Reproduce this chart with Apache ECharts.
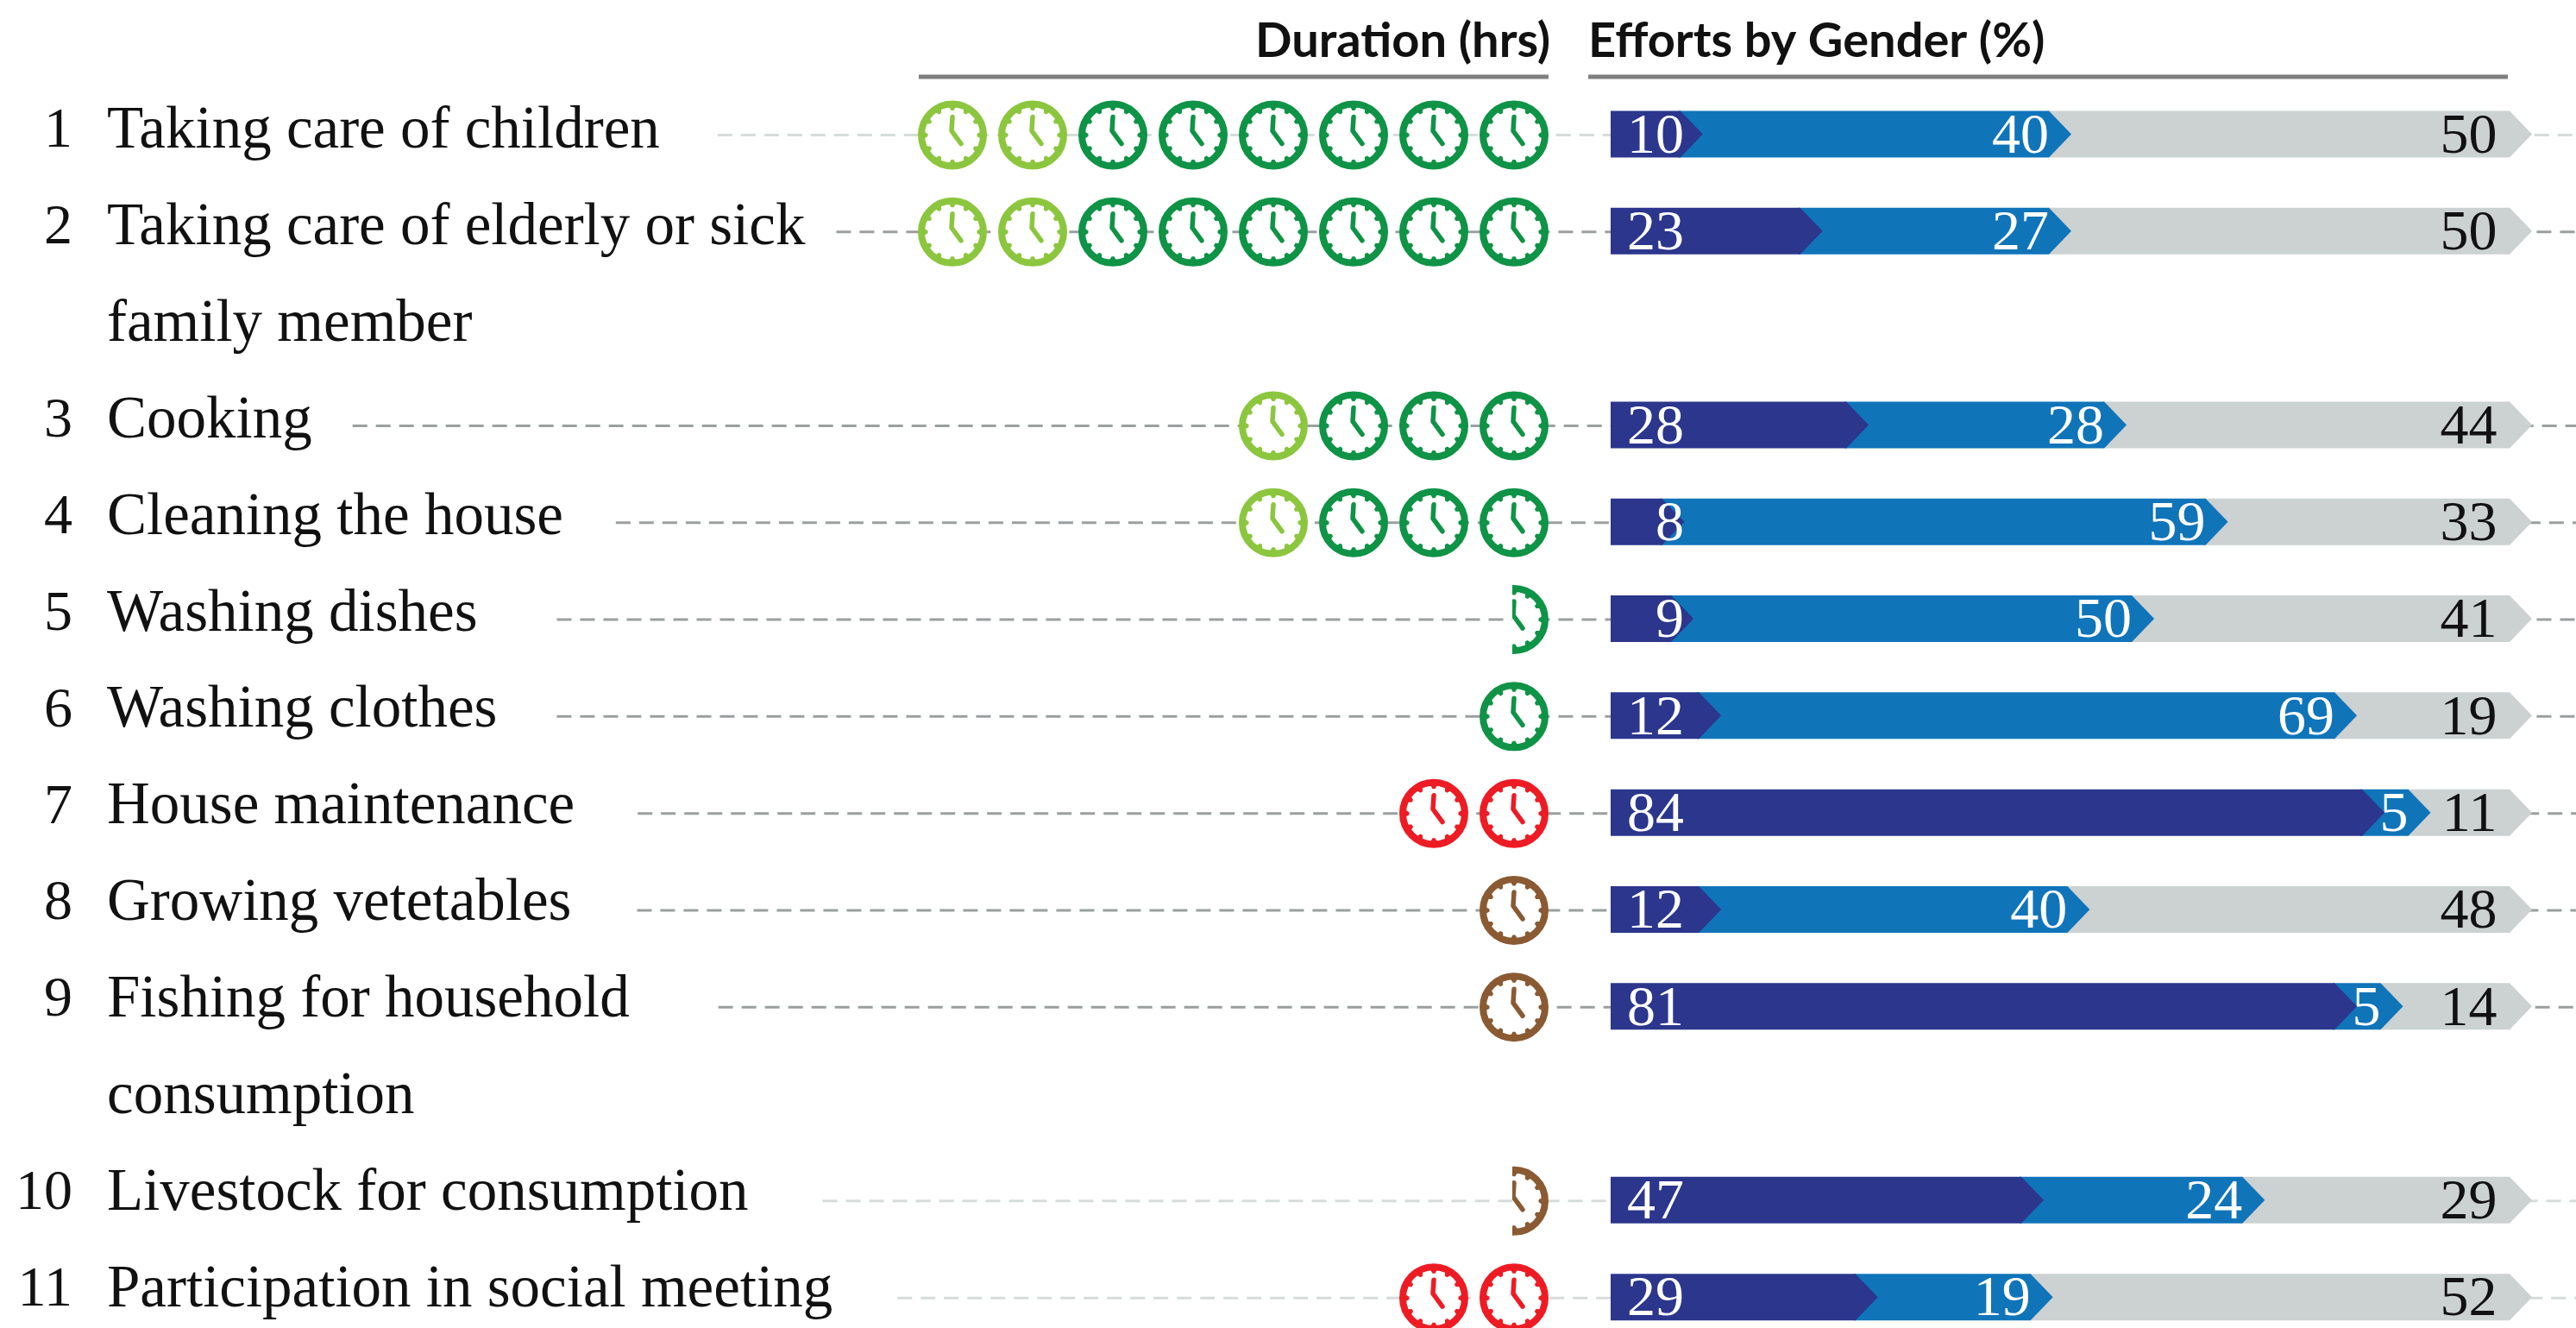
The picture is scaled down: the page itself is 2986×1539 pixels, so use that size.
<!DOCTYPE html>
<html>
<head>
<meta charset="utf-8">
<style>html,body{margin:0;padding:0;background:#fff}#c{width:2986px;height:1539px}</style>
<script src="https://cdn.jsdelivr.net/npm/echarts@6/dist/echarts.min.js"></script>
</head>
<body>
<div id="c"></div>
<script>
// ---- data ----
const activities = [
  ["Taking care of children"],
  ["Taking care of elderly or sick", "family member"],
  ["Cooking"],
  ["Cleaning the house"],
  ["Washing dishes"],
  ["Washing clothes"],
  ["House maintenance"],
  ["Growing vetetables"],
  ["Fishing for household", "consumption"],
  ["Livestock for consumption"],
  ["Participation in social meeting"]
];
const durationHours = [8, 8, 4, 4, 0.5, 1, 2, 1, 1, 0.5, 2];
const lightHours    = [2, 2, 1, 1, 0, 0, 0, 0, 0, 0, 0];
const clockGroup    = ["green", "green", "green", "green", "green", "green", "red", "brown", "brown", "brown", "red"];
const shareDark = [10, 23, 28, 8, 9, 12, 84, 12, 81, 47, 29];
const shareMid  = [40, 27, 28, 59, 50, 69, 5, 40, 5, 24, 19];
const shareGrey = [50, 50, 44, 33, 41, 19, 11, 48, 14, 29, 52];

// ---- styles ----
const leaderTone = ["light", "dark", "dark", "dark", "dark", "dark", "dark", "dark", "dark", "light", "light"];
const leaderGap = [67, 36, 47, 61, 92, 69, 73, 76, 103, 86, 75];
const SERIF = '"Liberation Serif"';
const SANS = 'Lato';
const FS = 66, FS_LABEL = 69;
const COL = {
  dark: '#2b368c', mid: '#1074b9', grey: '#ccd1d1',
  lightGreen: '#8cc63f', green: '#0f9346', red: '#ed1c24', brown: '#8a5a32',
  leaderDark: '#9a9fa0', leaderLight: '#d6dcd9', rule: '#7f7f7f', ink: '#111'
};
const clockColor = {green: COL.green, red: COL.red, brown: COL.brown};

// slots: every text line takes one slot on the shared category axis
const slotLabels = [], slotNumbers = [], rowSlot = [];
activities.forEach((lines, i) => {
  rowSlot.push(slotLabels.length);
  lines.forEach((t, j) => { slotLabels.push(t); slotNumbers.push(j === 0 ? String(i + 1) : ''); });
});

const mctx = document.createElement('canvas').getContext('2d');
mctx.font = FS_LABEL + 'px ' + SERIF;
const leaderData = activities.map((lines, i) => [mctx.measureText(lines[0]).width + leaderGap[i], rowSlot[i]]);

const clockData = [];
durationHours.forEach((h, i) => {
  const n = Math.ceil(h);
  for (let k = 0; k < n; k++) {
    const frac = Math.min(1, h - k);
    const isLight = k >= n - lightHours[i];
    clockData.push({value: [k + 0.5, rowSlot[i]], frac, color: isLight ? COL.lightGreen : clockColor[clockGroup[i]]});
  }
});

const GRID_TOP = 99.4, SLOT = 112.3, GRID_H = SLOT * slotLabels.length;
const TEXT_TOP = 97, TEXT_SLOT = 111.9, TEXT_H = TEXT_SLOT * slotLabels.length;

function renderLeader(params, api) {
  const a = api.coord([api.value(0), api.value(1)]);
  const b = api.coord([2862, api.value(1)]);
  const tone = leaderTone[params.dataIndex];
  return {type: 'line', shape: {x1: a[0], y1: a[1] + 1, x2: b[0], y2: b[1] + 1},
    style: {stroke: tone === 'dark' ? COL.leaderDark : COL.leaderLight, lineWidth: 3, lineDash: [17, 10]}};
}

function renderClock(params, api) {
  const item = clockData[params.dataIndex];
  const c = api.coord([api.value(0), api.value(1)]);
  const cx = c[0], cy = c[1] + 1;
  const R = 40, lw = 8, col = item.color;
  const children = [{type: 'circle', shape: {cx, cy, r: R - lw / 2},
    style: {fill: '#fff', stroke: col, lineWidth: lw}}];
  for (let t = 0; t < 12; t++) {
    const an = t * Math.PI / 6, ux = Math.cos(an), uy = Math.sin(an), vx = -uy, vy = ux;
    const r0 = R - lw + 1, r1 = R - lw - 3.5;
    children.push({type: 'polygon', shape: {points: [
      [cx + ux * r0 + vx * 4, cy + uy * r0 + vy * 4],
      [cx + ux * r1 + vx * 1.5, cy + uy * r1 + vy * 1.5],
      [cx + ux * r1 - vx * 1.5, cy + uy * r1 - vy * 1.5],
      [cx + ux * r0 - vx * 4, cy + uy * r0 - vy * 4]]},
      style: {fill: col}});
  }
  children.push({type: 'polyline', shape: {points: [[cx, cy - 21], [cx - 1, cy - 5], [cx + 10, cy + 10]]},
    style: {stroke: col, fill: null, lineWidth: 5.5, lineCap: 'round', lineJoin: 'round'}});
  const g = {type: 'group', children};
  if (item.frac < 1) {
    const w = 2 * (R + 2) * item.frac;
    g.clipPath = {type: 'rect', shape: {x: cx + R + 2 - w - 2, y: cy - R - 2, width: w + 2, height: 2 * R + 4}};
  }
  return g;
}

const NOTCH = 26;
const LABEL_DARK_X = 7.95, LABEL_GREY_X = 96.2, LABEL_MID_BACK = 26;
function renderBar(color, textColor, labelMode) {
  return function (params, api) {
    const start = api.value(0), end = api.value(1), slot = api.value(2), val = api.value(3);
    const a = api.coord([start, slot]), b = api.coord([end, slot]);
    const h = 54, top = a[1] - h / 2, bot = a[1] + h / 2;
    const x0 = start > 0 ? a[0] - NOTCH - 2 : a[0];
    let tx, ty = a[1] + 4;
    if (labelMode === 'dark') tx = api.coord([LABEL_DARK_X, slot])[0];
    else if (labelMode === 'grey') tx = api.coord([LABEL_GREY_X, slot])[0];
    else tx = b[0] - LABEL_MID_BACK;
    return {type: 'group', children: [
      {type: 'polygon', shape: {points: [[x0, top], [b[0] - NOTCH, top], [b[0], a[1]], [b[0] - NOTCH, bot], [x0, bot]]}, style: {fill: color}},
      {type: 'text', x: tx, y: ty, style: {text: String(val), fill: textColor, font: FS + 'px ' + SERIF, textAlign: 'right', textVerticalAlign: 'middle'}, z2: 5}
    ]};
  };
}

const rows = activities.map((_, i) => i);
const darkData = rows.map(i => [0, shareDark[i], rowSlot[i], shareDark[i]]);
const midData  = rows.map(i => [shareDark[i], shareDark[i] + shareMid[i], rowSlot[i], shareMid[i]]);
const greyData = rows.map(i => [shareDark[i] + shareMid[i], shareDark[i] + shareMid[i] + shareGrey[i], rowSlot[i], shareGrey[i]]);

function hiddenCat(gridIndex) {
  return {type: 'category', gridIndex, data: slotLabels, inverse: true, show: false};
}

const titleStyle = {fontFamily: SANS, fontSize: 56, fontWeight: 700, color: '#111'};
const option = {
  animation: false,
  backgroundColor: '#fff',
  title: [
    {text: 'Duration (hrs)', left: 1455, top: 20, padding: 0, textStyle: titleStyle},
    {text: 'Efforts by Gender (%)', left: 1841, top: 20, padding: 0, textStyle: titleStyle}
  ],
  grid: [
    {left: 124, width: 2862, top: GRID_TOP, height: GRID_H, outerBoundsMode: 'none'},
    {left: 1057.5, width: 744, top: GRID_TOP, height: GRID_H, outerBoundsMode: 'none'},
    {left: 1867, width: 1068, top: GRID_TOP, height: GRID_H, outerBoundsMode: 'none'},
    {left: 124, width: 2862, top: TEXT_TOP, height: TEXT_H, outerBoundsMode: 'none'}
  ],
  xAxis: [
    {type: 'value', gridIndex: 0, min: 0, max: 2862, show: false},
    {type: 'value', gridIndex: 1, min: 0, max: 8, inverse: true, show: false},
    {type: 'value', gridIndex: 2, min: 0, max: 100, show: false},
    {type: 'value', gridIndex: 3, min: 0, max: 2862, show: false}
  ],
  yAxis: [
    {type: 'category', gridIndex: 3, data: slotLabels, inverse: true, position: 'left',
      axisLine: {show: false}, axisTick: {show: false}, splitLine: {show: false},
      axisLabel: {show: true, inside: true, margin: 0, interval: 0, hideOverlap: false, color: COL.ink, fontFamily: SERIF, fontSize: FS_LABEL}},
    {type: 'category', gridIndex: 3, data: slotNumbers, inverse: true, position: 'left',
      axisLine: {show: false}, axisTick: {show: false}, splitLine: {show: false},
      axisLabel: {show: true, margin: 40, interval: 0, hideOverlap: false, color: COL.ink, fontFamily: SERIF, fontSize: FS}},
    hiddenCat(0),
    hiddenCat(1),
    hiddenCat(2)
  ],
  graphic: [
    {type: 'rect', shape: {x: 1065, y: 86.5, width: 730, height: 5}, style: {fill: COL.rule}, silent: true},
    {type: 'rect', shape: {x: 1841, y: 86.5, width: 1066, height: 5}, style: {fill: COL.rule}, silent: true}
  ],
  series: [
    {type: 'custom', name: 'Leader', xAxisIndex: 0, yAxisIndex: 2, data: leaderData, encode: {x: 0, y: 1}, renderItem: renderLeader, z: 1, silent: true},
    {type: 'custom', name: 'Duration', xAxisIndex: 1, yAxisIndex: 3, data: clockData, encode: {x: 0, y: 1}, renderItem: renderClock, z: 2, silent: true},
    {type: 'custom', name: 'Grey share', xAxisIndex: 2, yAxisIndex: 4, data: greyData, encode: {x: [0, 1], y: 2}, renderItem: renderBar(COL.grey, COL.ink, 'grey'), z: 3, silent: true},
    {type: 'custom', name: 'Mid share', xAxisIndex: 2, yAxisIndex: 4, data: midData, encode: {x: [0, 1], y: 2}, renderItem: renderBar(COL.mid, '#fff', 'mid'), z: 4, silent: true},
    {type: 'custom', name: 'Dark share', xAxisIndex: 2, yAxisIndex: 4, data: darkData, encode: {x: [0, 1], y: 2}, renderItem: renderBar(COL.dark, '#fff', 'dark'), z: 5, silent: true}
  ]
};
const chart = echarts.init(document.getElementById('c'), null, {renderer: 'canvas', width: 2986, height: 1539});
chart.setOption(option);
</script>
</body>
</html>
